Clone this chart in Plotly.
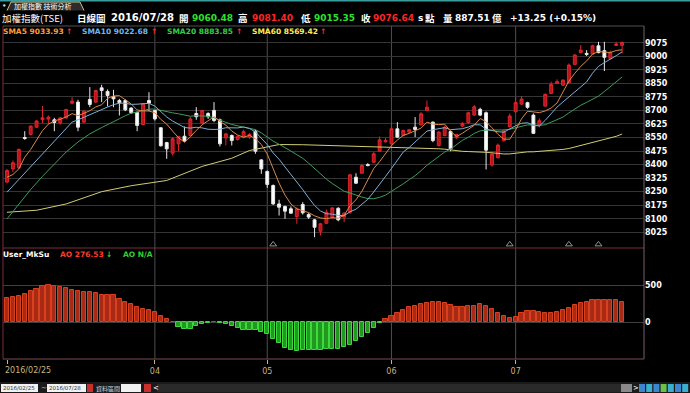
import numpy as np
import plotly.graph_objects as go

W, H = 690, 393

# ---------------- data ----------------
opens = [8303, 8376, 8382, 8550, 8567, 8607, 8650, 8652, 8648, 8630,
         8659, 8740, 8746, 8635, 8761, 8746, 8825, 8805, 8777, 8755,
         8755, 8713, 8689, 8622, 8755, 8700, 8604, 8522, 8463, 8515,
         8557, 8561, 8683, 8630, 8683, 8700, 8648, 8548, 8561, 8539,
         8552, 8552, 8585, 8426, 8362, 8284, 8182, 8168, 8155, 8112,
         8179, 8123, 8094, 8031, 8075, 8109, 8158, 8109, 8136, 8330,
         8352, 8400, 8413, 8474, 8526, 8515, 8598, 8561, 8580, 8607,
         8620, 8700, 8635, 8506, 8561, 8583, 8548, 8613, 8632, 8674,
         8706, 8687, 8397, 8438, 8532, 8610, 8693, 8735, 8743, 8674,
         8619, 8724, 8794, 8850, 8840, 8853, 8955, 9020, 9016, 9012,
         9058, 9031, 8988, 9060, 9060.48]
highs = [8376, 8423, 8489, 8585, 8617, 8648, 8724, 8672, 8659, 8663,
         8709, 8774, 8759, 8700, 8829, 8814, 8842, 8816, 8814, 8764,
         8762, 8718, 8694, 8740, 8801, 8703, 8607, 8526, 8552, 8559,
         8611, 8663, 8718, 8703, 8690, 8746, 8655, 8576, 8567, 8561,
         8593, 8574, 8593, 8430, 8367, 8290, 8205, 8173, 8168, 8164,
         8192, 8131, 8099, 8077, 8151, 8164, 8164, 8136, 8349, 8352,
         8404, 8408, 8469, 8556, 8548, 8635, 8635, 8594, 8598, 8663,
         8690, 8755, 8639, 8585, 8616, 8589, 8570, 8635, 8693, 8730,
         8715, 8694, 8465, 8517, 8595, 8683, 8776, 8780, 8748, 8683,
         8656, 8794, 8859, 8872, 8872, 8960, 9012, 9062, 9034, 9064,
         9080, 9080, 9031, 9080, 9081.40]
lows = [8297, 8358, 8376, 8537, 8561, 8602, 8630, 8626, 8585, 8622,
        8653, 8733, 8585, 8630, 8718, 8742, 8746, 8722, 8718, 8672,
        8696, 8681, 8585, 8618, 8696, 8644, 8500, 8432, 8450, 8474,
        8524, 8556, 8648, 8626, 8653, 8635, 8500, 8506, 8506, 8533,
        8546, 8543, 8460, 8349, 8271, 8177, 8118, 8099, 8127, 8072,
        8123, 8099, 7998, 8007, 8072, 8099, 8086, 8081, 8127, 8293,
        8349, 8390, 8408, 8471, 8522, 8511, 8548, 8556, 8574, 8552,
        8616, 8696, 8524, 8500, 8556, 8474, 8543, 8607, 8626, 8670,
        8668, 8373, 8388, 8434, 8528, 8606, 8687, 8730, 8709, 8569,
        8606, 8720, 8790, 8846, 8835, 8850, 8951, 9016, 9001, 9009,
        9016, 8918, 8983, 9057, 9015.35]
closes = [8367, 8410, 8484, 8545, 8613, 8641, 8659, 8663, 8633, 8659,
          8705, 8751, 8607, 8696, 8733, 8810, 8810, 8783, 8764, 8742,
          8703, 8687, 8617, 8737, 8740, 8653, 8504, 8487, 8543, 8556,
          8530, 8653, 8665, 8700, 8665, 8644, 8515, 8570, 8533, 8556,
          8583, 8567, 8474, 8376, 8290, 8182, 8164, 8142, 8131, 8155,
          8133, 8109, 8053, 8072, 8136, 8160, 8094, 8131, 8343, 8297,
          8395, 8395, 8460, 8537, 8533, 8598, 8552, 8589, 8593, 8594,
          8681, 8718, 8533, 8580, 8607, 8487, 8567, 8628, 8687, 8720,
          8674, 8480, 8458, 8508, 8586, 8669, 8743, 8763, 8717, 8573,
          8643, 8789, 8844, 8859, 8868, 8951, 9007, 9034, 9010, 9058,
          9020, 8994, 9020, 9068, 9076.64]
ao_values = [320, 342, 347, 383, 419, 450, 482, 495, 486, 468,
             455, 437, 424, 410, 405, 396, 369, 365, 360, 315,
             279, 252, 212, 176, 162, 135, 81, 45, 5, -63,
             -90, -85, -54, -18, -5, 9, -5, -22, -54, -77,
             -99, -99, -99, -126, -158, -216, -270, -338, -369, -387,
             -374, -374, -369, -369, -356, -356, -351, -329, -302, -243,
             -189, -140, -72, -5, 45, 81, 126, 171, 203, 225,
             248, 261, 270, 270, 261, 234, 203, 203, 216, 225,
             243, 225, 176, 122, 86, 59, 72, 122, 153, 149,
             135, 131, 122, 140, 167, 198, 230, 257, 279, 293,
             306, 302, 293, 293, 276.53]

# moving-average values read off the chart where the window is not yet full
sma5_lead_idx = [0, 1, 2, 3]
sma5_lead_val = [8330, 8345, 8376, 8441]
sma10_lead_idx = [0, 2, 4, 6, 8]
sma10_lead_val = [8247, 8318, 8389, 8460, 8530]
sma20_lead_idx = [0, 2, 4, 6, 8, 10, 12, 14, 16, 18]
sma20_lead_val = [8099, 8180, 8262, 8335, 8400, 8470, 8525, 8570, 8605, 8635]
sma60_lead_idx = [0, 5, 10, 16, 21, 27, 33, 38, 41, 46, 50, 55]
sma60_lead_val = [8136, 8147, 8182, 8250, 8283, 8312, 8390, 8435, 8478, 8511, 8510, 8506]

month_tick_idx = [0, 25, 44, 65, 86]
month_tick_txt = ['2016/02/25', '04', '05', '06', '07']
price_ticks = [8025, 8100, 8175, 8250, 8325, 8400, 8475, 8550, 8625, 8700,
               8775, 8850, 8925, 9000, 9075]
ao_ticks = [0, 500]
signal_idx = [45, 85, 95, 100]

header_items = [  # (x px, text, color, font kind)
    (2, '加權指數(TSE)', '#ffffff', 'cjk'),
    (77, '日線圖', '#ffffff', 'cjkb'),
    (111, '2016/07/28', '#ffffff', 'date'),
    (179, '開', '#ffffff', 'cjkb'),
    (192, '9060.48', '#2fe02f', 'num'),
    (238, '高', '#ffffff', 'cjkb'),
    (252, '9081.40', '#ff2626', 'num'),
    (301, '低', '#ffffff', 'cjkb'),
    (314, '9015.35', '#2fe02f', 'num'),
    (361, '收', '#ffffff', 'cjkb'),
    (373, '9076.64', '#ff2626', 'num'),
    (418, 's', '#ffffff', 'num'),
    (425, '點', '#ffffff', 'cjkb'),
    (443, '量', '#ffffff', 'cjkb'),
    (455, '887.51', '#ffffff', 'num'),
    (492, '億', '#ffffff', 'cjkb'),
    (510, '+13.25 (+0.15%)', '#ffffff', 'num'),
]
legend_items = [
    (3, 'SMA5 9033.93', '#ff9a3a'), (66, '↑', '#ff2a2a'),
    (82, 'SMA10 9022.68', '#6cb6ee'), (151, '↑', '#ff2a2a'),
    (167, 'SMA20 8883.85', '#2fd045'), (236, '↑', '#ff2a2a'),
    (252, 'SMA60 8569.42', '#ffea50'), (320, '↑', '#ff2a2a'),
]
ao_label_items = [
    (3, 'User_MkSu', '#ffffff'), (60, 'AO 276.53', '#ff3b2b'),
    (106, '↓', '#2fd02f'), (123, 'AO N/A', '#2fd02f'),
]

# ---------------- helpers ----------------
N = len(closes)
idx = list(range(N))
c = np.array(closes, dtype=float)


def sma(n, lead_idx, lead_val):
    xs = list(lead_idx)
    ys = list(lead_val)
    for i in range(n - 1, N):
        xs.append(i)
        ys.append(float(c[i - n + 1:i + 1].mean()))
    return xs, ys


def px_x(p):
    return p / W


def px_y(p):
    return 1 - p / H


# plot geometry (pixels)
LEFT, RIGHT = 3, 644
MAIN_TOP, MAIN_BOT = 26, 248
AO_TOP, AO_BOT = 249, 359
x_range = [-0.68, 107.7]

fig = go.Figure()

# moving averages
for n, li, lv, col in [(60, sma60_lead_idx, sma60_lead_val, '#d4cc74'),
                       (20, sma20_lead_idx, sma20_lead_val, '#3e9c5c'),
                       (10, sma10_lead_idx, sma10_lead_val, '#7fb0d6'),
                       (5, sma5_lead_idx, sma5_lead_val, '#d98a4e')]:
    xs, ys = sma(n, li, lv)
    fig.add_trace(go.Scatter(x=xs, y=ys, mode='lines', line=dict(color=col, width=1),
                             xaxis='x', yaxis='y', hoverinfo='skip'))

fig.add_trace(go.Candlestick(
    x=idx, open=opens, high=highs, low=lows, close=closes,
    increasing=dict(line=dict(color='#e0242b', width=1), fillcolor='#b8141b'),
    decreasing=dict(line=dict(color='#e8e8e8', width=1), fillcolor='#ffffff'),
    whiskerwidth=0, xaxis='x', yaxis='y'))

fig.add_trace(go.Scatter(x=signal_idx, y=[7958] * len(signal_idx), mode='markers',
                         marker=dict(symbol='triangle-up-open', size=6, color='#8a9a8a',
                                     line=dict(width=1)),
                         xaxis='x', yaxis='y', hoverinfo='skip'))

ao_fill = ['#a82a14' if v > 0 else '#1f9a1f' for v in ao_values]
ao_edge = ['#d8401e' if v > 0 else '#3fd83f' for v in ao_values]
fig.add_trace(go.Bar(x=idx, y=ao_values, width=0.72,
                     marker=dict(color=ao_fill, line=dict(color=ao_edge, width=1)),
                     xaxis='x2', yaxis='y2'))

# ---------------- layout ----------------
axis_font = dict(family='DejaVu Sans', size=8, color='#ffffff', weight='bold')
fig.update_layout(
    width=W, height=H, autosize=False,
    margin=dict(l=0, r=0, t=0, b=0, pad=0),
    paper_bgcolor='#000000', plot_bgcolor='#000000',
    showlegend=False, bargap=0,
    xaxis=dict(domain=[px_x(LEFT), px_x(RIGHT)], range=x_range, anchor='y',
               showticklabels=False, showgrid=False, zeroline=False,
               rangeslider=dict(visible=False), fixedrange=True),
    xaxis2=dict(domain=[px_x(LEFT), px_x(RIGHT)], range=x_range, anchor='y2',
                tickvals=month_tick_idx, ticktext=[''] + month_tick_txt[1:],
                ticks='outside', ticklen=4, tickcolor='#c9b57a', tickwidth=1,
                tickfont=dict(family='DejaVu Sans', size=8, color='#c9b57a'),
                showgrid=False, zeroline=False, showline=False),
    yaxis=dict(domain=[px_y(MAIN_BOT), px_y(MAIN_TOP)], range=[7938, 9167.5],
               side='right', anchor='x', tickvals=price_ticks, ticks='',
               tickfont=axis_font, gridcolor='#353535', gridwidth=1,
               zeroline=False, showline=False),
    yaxis2=dict(domain=[px_y(AO_BOT), px_y(AO_TOP)], range=[-490, 982],
                side='right', anchor='x2', tickvals=ao_ticks, ticks='',
                tickfont=axis_font, gridcolor='#404040', gridwidth=1,
                zeroline=False, showline=False),
)

shapes = []
# month separators
for m in month_tick_idx[1:]:
    shapes.append(dict(type='line', xref='x', yref='paper', x0=m, x1=m,
                       y0=px_y(AO_BOT), y1=px_y(MAIN_TOP),
                       line=dict(color='#4e4e4e', width=1), layer='below'))


def hline(y, x0, x1, col, w=1):
    shapes.append(dict(type='line', xref='paper', yref='paper', x0=px_x(x0), x1=px_x(x1),
                       y0=px_y(y), y1=px_y(y), line=dict(color=col, width=w)))


def vline(x, y0, y1, col, w=1):
    shapes.append(dict(type='line', xref='paper', yref='paper', x0=px_x(x), x1=px_x(x),
                       y0=px_y(y0), y1=px_y(y1), line=dict(color=col, width=w)))


def rect(x0, y0, x1, y1, fill, line=None):
    shapes.append(dict(type='rect', xref='paper', yref='paper', x0=px_x(x0), x1=px_x(x1),
                       y0=px_y(y1), y1=px_y(y0), fillcolor=fill,
                       line=dict(color=line or fill, width=1 if line else 0)))


# frames
hline(MAIN_TOP, LEFT, RIGHT, '#505050')
hline(MAIN_BOT, LEFT, RIGHT, '#7a2e3a')
hline(AO_BOT, LEFT, RIGHT, '#7a4a52')
vline(LEFT, MAIN_TOP, AO_BOT, '#7a2e3a')
vline(RIGHT, MAIN_TOP, AO_BOT, '#7a6068')

# top chrome
rect(0, 0, 690, 1.5, '#3a9c9c')
shapes.append(dict(type='path', xref='paper', yref='paper',
                   path='M {} {} L {} {} L {} {} L {} {}'.format(
                       px_x(7), px_y(10.5), px_x(11), px_y(2), px_x(80), px_y(2), px_x(84), px_y(10.5)),
                   fillcolor='#2c2c2c', line=dict(color='#cbbf8a', width=1)))

# bottom toolbar
rect(0, 382, 690, 393, '#1b1b1b')
rect(1, 384, 38, 392, '#f2f2f2')
rect(47, 384, 86, 392, '#f2f2f2')
rect(87, 384, 93, 392, '#c83030')
rect(121, 384, 141, 392, '#f2f2f2')
rect(144, 384, 151, 392, '#c83030')
rect(157, 384, 621, 392, '#2a2a2a')
rect(621, 384, 632, 392, '#8a8a8a')
for k, col in enumerate(['#3a86d0', '#3ab0d0', '#3a86d0', '#6cc04a', '#3ab0d0', '#3a86d0', '#3ab0d0']):
    rect(639 + k * 7.2, 384, 645 + k * 7.2, 392, col)

fig.update_layout(shapes=shapes)

anns = []


def T(px, py, s, color, size, bold, fam):
    anns.append(dict(x=px_x(px), y=px_y(py), xref='paper', yref='paper', text=s,
                     showarrow=False, xanchor='left', yanchor='middle', borderpad=0,
                     font=dict(family=fam, size=size, color=color,
                               weight='bold' if bold else 'normal')))


CJK = 'Noto Sans CJK TC'
HY = 17.8
for x, s, col, kind in header_items:
    if kind == 'cjk':
        T(x - 1, HY, s, col, 9.5, False, CJK)
    elif kind == 'cjkb':
        T(x - 1, HY, s, col, 9.5, True, CJK)
    elif kind == 'date':
        T(x - 1, HY, s, col, 10, True, 'DejaVu Sans')
    else:
        T(x - 1, HY, s, col, 9, True, 'DejaVu Sans')
for x, s, col in legend_items:
    T(x - 1, 31.5, s, col, 7.5, True, 'DejaVu Sans')
for x, s, col in ao_label_items:
    T(x - 1, 254.5, s, col, 7.5, True, 'DejaVu Sans')

T(13, 5.6, '加權指數 技術分析', '#ffffff', 7, False, CJK)
T(1, 5.5, '•', '#9fd8d8', 7, True, 'DejaVu Sans')

# first x label (left aligned at the first candle)
anns.append(dict(x=month_tick_idx[0], y=px_y(370), xref='x2', yref='paper',
                 text=month_tick_txt[0], showarrow=False, xanchor='left', yanchor='middle',
                 xshift=-4, font=dict(family='DejaVu Sans', size=8, color='#c9b57a')))

# toolbar texts
for x, s in [(2, '2016/02/25'), (48, '2016/07/28')]:
    T(x, 388, s, '#333333', 5.5, False, 'DejaVu Sans')
T(39.5, 388, '~', '#dddddd', 7, False, 'DejaVu Sans')
T(95, 388, '資料區間', '#dddddd', 6, False, CJK)
T(152, 388, '<', '#dddddd', 7, True, 'DejaVu Sans')
T(632, 388, '>', '#dddddd', 7, True, 'DejaVu Sans')

fig.update_layout(annotations=anns)

fig.write_html('out.html')
